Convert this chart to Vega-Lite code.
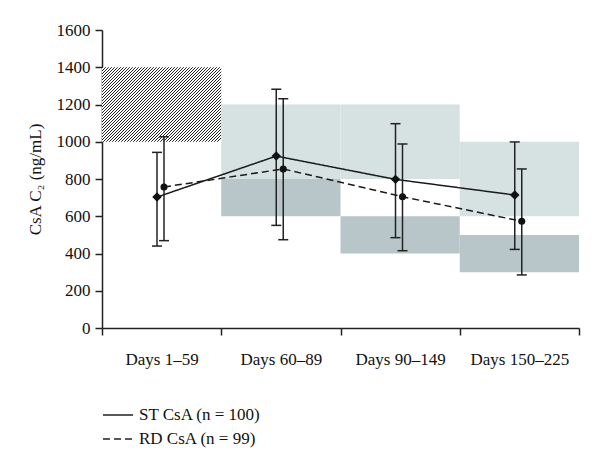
{
  "$schema": "https://vega.github.io/schema/vega-lite/v6.json",
  "width": 477,
  "height": 298,
  "autosize": "none",
  "padding": {"left": 102, "top": 30, "right": 21, "bottom": 135},
  "config": {
    "font": "Liberation Serif",
    "view": {"stroke": null},
    "axis": {
      "grid": false,
      "domainColor": "#222",
      "tickColor": "#222",
      "labelColor": "#111",
      "titleColor": "#111",
      "labelFont": "Liberation Serif",
      "titleFont": "Liberation Serif",
      "labelFontSize": 17,
      "titleFontSize": 17,
      "titleFontWeight": "normal",
      "domainWidth": 1.5,
      "tickWidth": 1.5,
      "tickSize": 7
    }
  },
  "datasets": {
    "bands": [
      {"period": "Days 1–59", "kind": "target", "lo": 1000, "hi": 1400},
      {"period": "Days 60–89", "kind": "upper", "lo": 800, "hi": 1200},
      {"period": "Days 60–89", "kind": "lower", "lo": 600, "hi": 800},
      {"period": "Days 90–149", "kind": "upper", "lo": 800, "hi": 1200},
      {"period": "Days 90–149", "kind": "lower", "lo": 400, "hi": 600},
      {"period": "Days 150–225", "kind": "upper", "lo": 600, "hi": 1000},
      {"period": "Days 150–225", "kind": "lower", "lo": 300, "hi": 500}
    ],
    "stats": [
      {"period": "Days 1–59", "series": "ST CsA (n = 100)", "mean": 703, "lo": 440, "hi": 943},
      {"period": "Days 1–59", "series": "RD CsA (n = 99)", "mean": 757, "lo": 469, "hi": 1027},
      {"period": "Days 60–89", "series": "ST CsA (n = 100)", "mean": 923, "lo": 551, "hi": 1282},
      {"period": "Days 60–89", "series": "RD CsA (n = 99)", "mean": 854, "lo": 474, "hi": 1231},
      {"period": "Days 90–149", "series": "ST CsA (n = 100)", "mean": 798, "lo": 485, "hi": 1097},
      {"period": "Days 90–149", "series": "RD CsA (n = 99)", "mean": 705, "lo": 415, "hi": 988},
      {"period": "Days 150–225", "series": "ST CsA (n = 100)", "mean": 714, "lo": 422, "hi": 999},
      {"period": "Days 150–225", "series": "RD CsA (n = 99)", "mean": 573, "lo": 285, "hi": 854}
    ]
  },
  "resolve": {"scale": {"xOffset": "independent"}},
  "encoding": {
    "x": {
      "field": "period",
      "type": "nominal",
      "scale": {"type": "band", "domain": ["Days 1–59", "Days 60–89", "Days 90–149", "Days 150–225"], "paddingInner": 0, "paddingOuter": 0},
      "axis": {"title": null, "labelAngle": 0, "tickBand": "extent", "labelPadding": 16}
    }
  },
  "layer": [
    {
      "data": {"name": "bands"},
      "transform": [{"filter": "datum.kind === 'target'"}],
      "mark": {
        "type": "rect",
        "fill": {
          "gradient": "linear", "x1": 0, "y1": 0, "x2": 1.158, "y2": 0.7234,
          "stops": [
{"offset":0,"color":"#222"},{"offset":0.0078125,"color":"#222"},{"offset":0.0078125,"color":"#fff"},{"offset":0.015625,"color":"#fff"},
{"offset":0.015625,"color":"#222"},{"offset":0.0234375,"color":"#222"},{"offset":0.0234375,"color":"#fff"},{"offset":0.03125,"color":"#fff"},
{"offset":0.03125,"color":"#222"},{"offset":0.0390625,"color":"#222"},{"offset":0.0390625,"color":"#fff"},{"offset":0.046875,"color":"#fff"},
{"offset":0.046875,"color":"#222"},{"offset":0.0546875,"color":"#222"},{"offset":0.0546875,"color":"#fff"},{"offset":0.0625,"color":"#fff"},
{"offset":0.0625,"color":"#222"},{"offset":0.0703125,"color":"#222"},{"offset":0.0703125,"color":"#fff"},{"offset":0.078125,"color":"#fff"},
{"offset":0.078125,"color":"#222"},{"offset":0.0859375,"color":"#222"},{"offset":0.0859375,"color":"#fff"},{"offset":0.09375,"color":"#fff"},
{"offset":0.09375,"color":"#222"},{"offset":0.1015625,"color":"#222"},{"offset":0.1015625,"color":"#fff"},{"offset":0.109375,"color":"#fff"},
{"offset":0.109375,"color":"#222"},{"offset":0.1171875,"color":"#222"},{"offset":0.1171875,"color":"#fff"},{"offset":0.125,"color":"#fff"},
{"offset":0.125,"color":"#222"},{"offset":0.1328125,"color":"#222"},{"offset":0.1328125,"color":"#fff"},{"offset":0.140625,"color":"#fff"},
{"offset":0.140625,"color":"#222"},{"offset":0.1484375,"color":"#222"},{"offset":0.1484375,"color":"#fff"},{"offset":0.15625,"color":"#fff"},
{"offset":0.15625,"color":"#222"},{"offset":0.1640625,"color":"#222"},{"offset":0.1640625,"color":"#fff"},{"offset":0.171875,"color":"#fff"},
{"offset":0.171875,"color":"#222"},{"offset":0.1796875,"color":"#222"},{"offset":0.1796875,"color":"#fff"},{"offset":0.1875,"color":"#fff"},
{"offset":0.1875,"color":"#222"},{"offset":0.1953125,"color":"#222"},{"offset":0.1953125,"color":"#fff"},{"offset":0.203125,"color":"#fff"},
{"offset":0.203125,"color":"#222"},{"offset":0.2109375,"color":"#222"},{"offset":0.2109375,"color":"#fff"},{"offset":0.21875,"color":"#fff"},
{"offset":0.21875,"color":"#222"},{"offset":0.2265625,"color":"#222"},{"offset":0.2265625,"color":"#fff"},{"offset":0.234375,"color":"#fff"},
{"offset":0.234375,"color":"#222"},{"offset":0.2421875,"color":"#222"},{"offset":0.2421875,"color":"#fff"},{"offset":0.25,"color":"#fff"},
{"offset":0.25,"color":"#222"},{"offset":0.2578125,"color":"#222"},{"offset":0.2578125,"color":"#fff"},{"offset":0.265625,"color":"#fff"},
{"offset":0.265625,"color":"#222"},{"offset":0.2734375,"color":"#222"},{"offset":0.2734375,"color":"#fff"},{"offset":0.28125,"color":"#fff"},
{"offset":0.28125,"color":"#222"},{"offset":0.2890625,"color":"#222"},{"offset":0.2890625,"color":"#fff"},{"offset":0.296875,"color":"#fff"},
{"offset":0.296875,"color":"#222"},{"offset":0.3046875,"color":"#222"},{"offset":0.3046875,"color":"#fff"},{"offset":0.3125,"color":"#fff"},
{"offset":0.3125,"color":"#222"},{"offset":0.3203125,"color":"#222"},{"offset":0.3203125,"color":"#fff"},{"offset":0.328125,"color":"#fff"},
{"offset":0.328125,"color":"#222"},{"offset":0.3359375,"color":"#222"},{"offset":0.3359375,"color":"#fff"},{"offset":0.34375,"color":"#fff"},
{"offset":0.34375,"color":"#222"},{"offset":0.3515625,"color":"#222"},{"offset":0.3515625,"color":"#fff"},{"offset":0.359375,"color":"#fff"},
{"offset":0.359375,"color":"#222"},{"offset":0.3671875,"color":"#222"},{"offset":0.3671875,"color":"#fff"},{"offset":0.375,"color":"#fff"},
{"offset":0.375,"color":"#222"},{"offset":0.3828125,"color":"#222"},{"offset":0.3828125,"color":"#fff"},{"offset":0.390625,"color":"#fff"},
{"offset":0.390625,"color":"#222"},{"offset":0.3984375,"color":"#222"},{"offset":0.3984375,"color":"#fff"},{"offset":0.40625,"color":"#fff"},
{"offset":0.40625,"color":"#222"},{"offset":0.4140625,"color":"#222"},{"offset":0.4140625,"color":"#fff"},{"offset":0.421875,"color":"#fff"},
{"offset":0.421875,"color":"#222"},{"offset":0.4296875,"color":"#222"},{"offset":0.4296875,"color":"#fff"},{"offset":0.4375,"color":"#fff"},
{"offset":0.4375,"color":"#222"},{"offset":0.4453125,"color":"#222"},{"offset":0.4453125,"color":"#fff"},{"offset":0.453125,"color":"#fff"},
{"offset":0.453125,"color":"#222"},{"offset":0.4609375,"color":"#222"},{"offset":0.4609375,"color":"#fff"},{"offset":0.46875,"color":"#fff"},
{"offset":0.46875,"color":"#222"},{"offset":0.4765625,"color":"#222"},{"offset":0.4765625,"color":"#fff"},{"offset":0.484375,"color":"#fff"},
{"offset":0.484375,"color":"#222"},{"offset":0.4921875,"color":"#222"},{"offset":0.4921875,"color":"#fff"},{"offset":0.5,"color":"#fff"},
{"offset":0.5,"color":"#222"},{"offset":0.5078125,"color":"#222"},{"offset":0.5078125,"color":"#fff"},{"offset":0.515625,"color":"#fff"},
{"offset":0.515625,"color":"#222"},{"offset":0.5234375,"color":"#222"},{"offset":0.5234375,"color":"#fff"},{"offset":0.53125,"color":"#fff"},
{"offset":0.53125,"color":"#222"},{"offset":0.5390625,"color":"#222"},{"offset":0.5390625,"color":"#fff"},{"offset":0.546875,"color":"#fff"},
{"offset":0.546875,"color":"#222"},{"offset":0.5546875,"color":"#222"},{"offset":0.5546875,"color":"#fff"},{"offset":0.5625,"color":"#fff"},
{"offset":0.5625,"color":"#222"},{"offset":0.5703125,"color":"#222"},{"offset":0.5703125,"color":"#fff"},{"offset":0.578125,"color":"#fff"},
{"offset":0.578125,"color":"#222"},{"offset":0.5859375,"color":"#222"},{"offset":0.5859375,"color":"#fff"},{"offset":0.59375,"color":"#fff"},
{"offset":0.59375,"color":"#222"},{"offset":0.6015625,"color":"#222"},{"offset":0.6015625,"color":"#fff"},{"offset":0.609375,"color":"#fff"},
{"offset":0.609375,"color":"#222"},{"offset":0.6171875,"color":"#222"},{"offset":0.6171875,"color":"#fff"},{"offset":0.625,"color":"#fff"},
{"offset":0.625,"color":"#222"},{"offset":0.6328125,"color":"#222"},{"offset":0.6328125,"color":"#fff"},{"offset":0.640625,"color":"#fff"},
{"offset":0.640625,"color":"#222"},{"offset":0.6484375,"color":"#222"},{"offset":0.6484375,"color":"#fff"},{"offset":0.65625,"color":"#fff"},
{"offset":0.65625,"color":"#222"},{"offset":0.6640625,"color":"#222"},{"offset":0.6640625,"color":"#fff"},{"offset":0.671875,"color":"#fff"},
{"offset":0.671875,"color":"#222"},{"offset":0.6796875,"color":"#222"},{"offset":0.6796875,"color":"#fff"},{"offset":0.6875,"color":"#fff"},
{"offset":0.6875,"color":"#222"},{"offset":0.6953125,"color":"#222"},{"offset":0.6953125,"color":"#fff"},{"offset":0.703125,"color":"#fff"},
{"offset":0.703125,"color":"#222"},{"offset":0.7109375,"color":"#222"},{"offset":0.7109375,"color":"#fff"},{"offset":0.71875,"color":"#fff"},
{"offset":0.71875,"color":"#222"},{"offset":0.7265625,"color":"#222"},{"offset":0.7265625,"color":"#fff"},{"offset":0.734375,"color":"#fff"},
{"offset":0.734375,"color":"#222"},{"offset":0.7421875,"color":"#222"},{"offset":0.7421875,"color":"#fff"},{"offset":0.75,"color":"#fff"},
{"offset":0.75,"color":"#222"},{"offset":0.7578125,"color":"#222"},{"offset":0.7578125,"color":"#fff"},{"offset":0.765625,"color":"#fff"},
{"offset":0.765625,"color":"#222"},{"offset":0.7734375,"color":"#222"},{"offset":0.7734375,"color":"#fff"},{"offset":0.78125,"color":"#fff"},
{"offset":0.78125,"color":"#222"},{"offset":0.7890625,"color":"#222"},{"offset":0.7890625,"color":"#fff"},{"offset":0.796875,"color":"#fff"},
{"offset":0.796875,"color":"#222"},{"offset":0.8046875,"color":"#222"},{"offset":0.8046875,"color":"#fff"},{"offset":0.8125,"color":"#fff"},
{"offset":0.8125,"color":"#222"},{"offset":0.8203125,"color":"#222"},{"offset":0.8203125,"color":"#fff"},{"offset":0.828125,"color":"#fff"},
{"offset":0.828125,"color":"#222"},{"offset":0.8359375,"color":"#222"},{"offset":0.8359375,"color":"#fff"},{"offset":0.84375,"color":"#fff"},
{"offset":0.84375,"color":"#222"},{"offset":0.8515625,"color":"#222"},{"offset":0.8515625,"color":"#fff"},{"offset":0.859375,"color":"#fff"},
{"offset":0.859375,"color":"#222"},{"offset":0.8671875,"color":"#222"},{"offset":0.8671875,"color":"#fff"},{"offset":0.875,"color":"#fff"},
{"offset":0.875,"color":"#222"},{"offset":0.8828125,"color":"#222"},{"offset":0.8828125,"color":"#fff"},{"offset":0.890625,"color":"#fff"},
{"offset":0.890625,"color":"#222"},{"offset":0.8984375,"color":"#222"},{"offset":0.8984375,"color":"#fff"},{"offset":0.90625,"color":"#fff"},
{"offset":0.90625,"color":"#222"},{"offset":0.9140625,"color":"#222"},{"offset":0.9140625,"color":"#fff"},{"offset":0.921875,"color":"#fff"},
{"offset":0.921875,"color":"#222"},{"offset":0.9296875,"color":"#222"},{"offset":0.9296875,"color":"#fff"},{"offset":0.9375,"color":"#fff"},
{"offset":0.9375,"color":"#222"},{"offset":0.9453125,"color":"#222"},{"offset":0.9453125,"color":"#fff"},{"offset":0.953125,"color":"#fff"},
{"offset":0.953125,"color":"#222"},{"offset":0.9609375,"color":"#222"},{"offset":0.9609375,"color":"#fff"},{"offset":0.96875,"color":"#fff"},
{"offset":0.96875,"color":"#222"},{"offset":0.9765625,"color":"#222"},{"offset":0.9765625,"color":"#fff"},{"offset":0.984375,"color":"#fff"},
{"offset":0.984375,"color":"#222"},{"offset":0.9921875,"color":"#222"},{"offset":0.9921875,"color":"#fff"},{"offset":1,"color":"#fff"}
          ]
        }
      },
      "encoding": {
        "y": {"field": "lo", "type": "quantitative", "scale": {"domain": [0, 1600]}, "axis": {"title": "CsA C₂ (ng/mL)", "values": [0, 200, 400, 600, 800, 1000, 1200, 1400, 1600], "format": "d", "labelPadding": 5, "titlePadding": 12}},
        "y2": {"field": "hi"}
      }
    },
    {
      "data": {"name": "bands"},
      "transform": [{"filter": "datum.kind !== 'target'"}],
      "mark": {"type": "rect"},
      "encoding": {
        "y": {"field": "lo", "type": "quantitative", "scale": {"domain": [0, 1600]}, "axis": {"title": "CsA C₂ (ng/mL)", "values": [0, 200, 400, 600, 800, 1000, 1200, 1400, 1600], "format": "d", "labelPadding": 5, "titlePadding": 12}},
        "y2": {"field": "hi"},
        "fill": {"field": "kind", "type": "nominal", "scale": {"domain": ["upper", "lower"], "range": ["#d6e1e1", "#b8c6c9"]}, "legend": null}
      }
    },
    {
      "data": {"name": "stats"},
      "mark": {"type": "line", "color": "#1a1a1a", "strokeWidth": 1.5},
      "encoding": {
        "xOffset": {"field": "series", "type": "nominal", "scale": {"type": "point", "domain": ["ST CsA (n = 100)", "RD CsA (n = 99)"], "range": [55, 62], "padding": 0}},
        "y": {"field": "mean", "type": "quantitative", "scale": {"domain": [0, 1600]}, "axis": {"title": "CsA C₂ (ng/mL)", "values": [0, 200, 400, 600, 800, 1000, 1200, 1400, 1600], "format": "d", "labelPadding": 5, "titlePadding": 12}},
        "strokeDash": {
          "field": "series", "type": "nominal",
          "scale": {"domain": ["ST CsA (n = 100)", "RD CsA (n = 99)"], "range": [[1, 0], [7, 4]]},
          "legend": {
            "title": null, "orient": "none", "legendX": 0, "legendY": 369, "direction": "vertical",
            "symbolType": "stroke", "symbolSize": 900, "symbolStrokeWidth": 1.5, "symbolStrokeColor": "#222",
            "labelFont": "Liberation Serif", "labelFontSize": 17, "labelColor": "#111", "labelOffset": 5, "rowPadding": -2, "labelLimit": 300
          }
        }
      }
    },
    {
      "data": {"name": "stats"},
      "mark": {"type": "rule", "color": "#222", "strokeWidth": 1.5},
      "encoding": {
        "xOffset": {"field": "series", "type": "nominal", "scale": {"type": "point", "domain": ["ST CsA (n = 100)", "RD CsA (n = 99)"], "range": [55, 62], "padding": 0}},
        "y": {"field": "lo", "type": "quantitative", "scale": {"domain": [0, 1600]}, "axis": {"title": "CsA C₂ (ng/mL)", "values": [0, 200, 400, 600, 800, 1000, 1200, 1400, 1600], "format": "d", "labelPadding": 5, "titlePadding": 12}},
        "y2": {"field": "hi"}
      }
    },
    {
      "data": {"name": "stats"},
      "mark": {"type": "tick", "orient": "horizontal", "size": 10, "thickness": 1.5, "color": "#222", "opacity": 1},
      "encoding": {
        "xOffset": {"field": "series", "type": "nominal", "scale": {"type": "point", "domain": ["ST CsA (n = 100)", "RD CsA (n = 99)"], "range": [55, 62], "padding": 0}},
        "y": {"field": "hi", "type": "quantitative", "scale": {"domain": [0, 1600]}, "axis": {"title": "CsA C₂ (ng/mL)", "values": [0, 200, 400, 600, 800, 1000, 1200, 1400, 1600], "format": "d", "labelPadding": 5, "titlePadding": 12}}
      }
    },
    {
      "data": {"name": "stats"},
      "mark": {"type": "tick", "orient": "horizontal", "size": 10, "thickness": 1.5, "color": "#222", "opacity": 1},
      "encoding": {
        "xOffset": {"field": "series", "type": "nominal", "scale": {"type": "point", "domain": ["ST CsA (n = 100)", "RD CsA (n = 99)"], "range": [55, 62], "padding": 0}},
        "y": {"field": "lo", "type": "quantitative", "scale": {"domain": [0, 1600]}, "axis": {"title": "CsA C₂ (ng/mL)", "values": [0, 200, 400, 600, 800, 1000, 1200, 1400, 1600], "format": "d", "labelPadding": 5, "titlePadding": 12}}
      }
    },
    {
      "data": {"name": "stats"},
      "transform": [{"filter": "datum.series === 'ST CsA (n = 100)'"}],
      "mark": {"type": "point", "shape": "diamond", "size": 90, "filled": true, "color": "#111", "opacity": 1},
      "encoding": {
        "xOffset": {"field": "series", "type": "nominal", "scale": {"type": "point", "domain": ["ST CsA (n = 100)", "RD CsA (n = 99)"], "range": [55, 62], "padding": 0}},
        "y": {"field": "mean", "type": "quantitative", "scale": {"domain": [0, 1600]}, "axis": {"title": "CsA C₂ (ng/mL)", "values": [0, 200, 400, 600, 800, 1000, 1200, 1400, 1600], "format": "d", "labelPadding": 5, "titlePadding": 12}}
      }
    },
    {
      "data": {"name": "stats"},
      "transform": [{"filter": "datum.series === 'RD CsA (n = 99)'"}],
      "mark": {"type": "point", "shape": "circle", "size": 50, "filled": true, "color": "#111", "opacity": 1},
      "encoding": {
        "xOffset": {"field": "series", "type": "nominal", "scale": {"type": "point", "domain": ["ST CsA (n = 100)", "RD CsA (n = 99)"], "range": [55, 62], "padding": 0}},
        "y": {"field": "mean", "type": "quantitative", "scale": {"domain": [0, 1600]}, "axis": {"title": "CsA C₂ (ng/mL)", "values": [0, 200, 400, 600, 800, 1000, 1200, 1400, 1600], "format": "d", "labelPadding": 5, "titlePadding": 12}}
      }
    }
  ]
}
